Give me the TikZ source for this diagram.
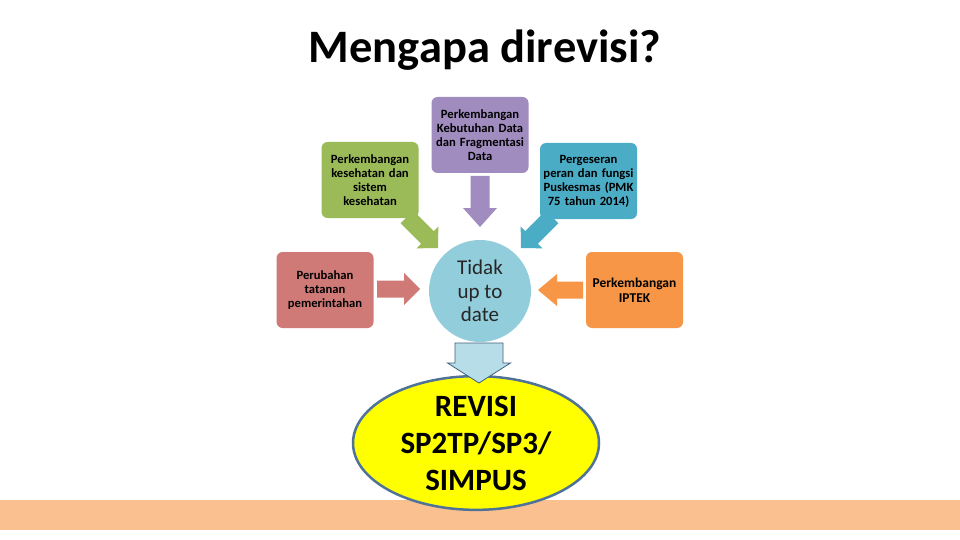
\documentclass[tikz,border=0pt]{standalone}
\usepackage{fontspec}
\setmainfont{Carlito}
\usetikzlibrary{calc,shapes.geometric}
\definecolor{cgreen}{HTML}{9BBB59}
\definecolor{cpurple}{HTML}{A08CBE}
\definecolor{cblue}{HTML}{4BACC6}
\definecolor{cred}{HTML}{D07A77}
\definecolor{corange}{HTML}{F79646}
\definecolor{ccircle}{HTML}{92CDDC}
\definecolor{cband}{HTML}{FAC090}
\definecolor{chollow}{HTML}{B7DEE8}
\definecolor{chollowline}{HTML}{3F5F7F}
\definecolor{cellline}{HTML}{4F7398}
\definecolor{cyellow}{HTML}{FFFF00}
\tikzset{
  box/.style={rounded corners=6pt, minimum width=97pt, minimum height=76pt,
    text width=95pt, align=center, inner sep=0pt,
    font=\fontsize{12.6}{14}\selectfont\bfseries, text=black},
}
% #1 tip, #2 angle, #3 length, #4 shaft width, #5 head width, #6 head length, #7 style
\newcommand{\blockarr}[7]{%
  \begin{scope}[shift={#1}, rotate=#2]
    \path[#7] (0,0) -- (-#6,#5/2) -- (-#6,#4/2) -- (-#3,#4/2) -- (-#3,-#4/2)
      -- (-#6,-#4/2) -- (-#6,-#5/2) -- cycle;
  \end{scope}}
\begin{document}
\begin{tikzpicture}[x=1pt,y=-1pt]
\useasboundingbox (0,0) rectangle (960,540);
\fill[white] (0,0) rectangle (960,540);
% band
\fill[cband] (0,500) rectangle (960,530);
% title
\node[anchor=base, font=\fontsize{46.5}{50}\selectfont\bfseries] (title) at (485,63) {Mengapa direvisi?};
% boxes
\node[box, fill=cgreen] (green) at (370,180) {Perkembangan\\kesehatan dan\\sistem\\kesehatan};
\node[box, fill=cpurple] (purple) at (480,135) {Perkembangan\\Kebutuhan Data\\dan Fragmentasi\\Data};
\node[box, fill=cblue] (blue) at (588.5,181) {Pergeseran\\peran dan fungsi\\Puskesmas (PMK\\75 tahun 2014)};
\node[box, fill=cred] (red) at (325,290) {Perubahan\\tatanan\\pemerintahan};
\node[box, fill=corange, font=\fontsize{13.5}{15}\selectfont\bfseries] (orange) at (634.5,290) {Perkembangan\\IPTEK};
% circle
\node[circle, fill=ccircle, minimum size=102pt, inner sep=0pt, align=center,
  text=black!85, font=\fontsize{21}{23.5}\selectfont] (circ) at (480,291) {Tidak\\up to\\date};
% block arrows
\blockarr{(480,227)}{-90}{51}{19}{34}{19}{fill=cpurple}
\blockarr{(420,289)}{0}{43}{17}{32}{16}{fill=cred}
\blockarr{(538,290)}{180}{45}{17}{32}{19}{fill=corange}
\blockarr{(438,248)}{-45}{44}{18}{31}{15}{fill=cgreen}
\blockarr{(521,248)}{-135}{44}{18}{31}{15}{fill=cblue}
% ellipse
\node[ellipse, fill=cyellow, draw=cellline, line width=2.5pt, minimum width=246pt,
  minimum height=114pt, inner sep=0pt, align=center,
  font=\fontsize{31}{37}\selectfont\bfseries] (revisi) at (476,443) {REVISI\\SP2TP/SP3/\\SIMPUS};
% hollow arrow
\blockarr{(479,383)}{-90}{40}{48}{63}{20}{fill=chollow, draw=chollowline, line width=0.8pt}
\end{tikzpicture}
\end{document}
